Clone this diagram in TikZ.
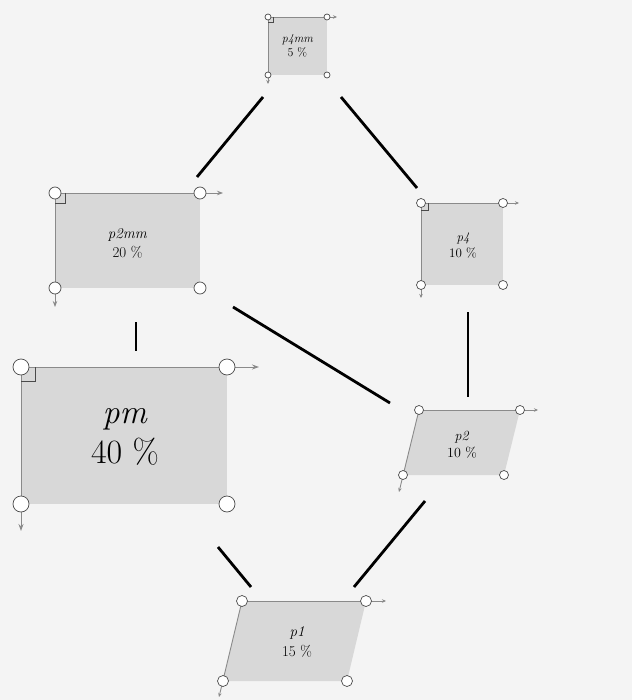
\documentclass[tikz,border=0pt]{standalone}
\usepackage{fontspec}
\usetikzlibrary{arrows.meta}
\definecolor{bggray}{HTML}{F4F4F4}
\definecolor{cellgray}{HTML}{D8D8D8}
\definecolor{edgegray}{HTML}{8A8A8A}
\definecolor{circgray}{HTML}{4A4A4A}
\tikzset{
  celledge/.style={draw=edgegray, line width=0.9pt},
  corner/.style={circle, draw=circgray, fill=white, line width=0.7pt, inner sep=0pt},
  rmark/.style={draw=circgray, line width=0.6pt},
  link/.style={line width=2.8pt, black},
  lbl/.style={align=center, inner sep=0pt, text=black},
  tipS/.style={-{Stealth[length=4pt,width=3.5pt]}},
  tipM/.style={-{Stealth[length=6pt,width=4.5pt]}},
  tipL/.style={-{Stealth[length=7pt,width=5pt]}},
}
\begin{document}
\begin{tikzpicture}[x=1pt,y=-1pt]
\fill[bggray] (0,0) rectangle (632,700);
\useasboundingbox (0,0) rectangle (632,700);

% ---------- p4mm ----------
\coordinate (aTL) at (268,17);
\coordinate (aTR) at (327,17);
\coordinate (aBL) at (268,75);
\coordinate (aBR) at (327,75);
\coordinate (aAR) at (337,17);
\coordinate (aAD) at (268,84);
\fill[cellgray] (aTL) -- (aTR) -- (aBR) -- (aBL) -- cycle;
\draw[celledge, tipS] (aTL) -- (aAR);
\draw[celledge, tipS] (aTL) -- (aAD);
\draw[rmark] (aTL) ++(5,0) -- ++(0,5) -- ++(-5,0);
\foreach \c in {TL,TR,BL,BR} \node[corner, minimum size=6pt] (ac\c) at (a\c) {};
\node[lbl, font=\fontsize{12}{14}\selectfont] (p4mm) at (297.5,46) {\textit{p4mm}\\5 \%};

% ---------- p2mm ----------
\coordinate (bTL) at (55,193);
\coordinate (bTR) at (200,193);
\coordinate (bBL) at (55,288);
\coordinate (bBR) at (200,288);
\coordinate (bAR) at (223,193);
\coordinate (bAD) at (55,307);
\fill[cellgray] (bTL) -- (bTR) -- (bBR) -- (bBL) -- cycle;
\draw[celledge, tipM] (bTL) -- (bAR);
\draw[celledge, tipM] (bTL) -- (bAD);
\draw[rmark] (bTL) ++(10,0) -- ++(0,10) -- ++(-10,0);
\foreach \c in {TL,TR,BL,BR} \node[corner, minimum size=12pt] (bc\c) at (b\c) {};
\node[lbl, font=\fontsize{15}{19}\selectfont] (p2mm) at (127.5,243) {\textit{p2mm}\\20 \%};

% ---------- pm ----------
\coordinate (cTL) at (21,367);
\coordinate (cTR) at (227,367);
\coordinate (cBL) at (21,504);
\coordinate (cBR) at (227,504);
\coordinate (cAR) at (259,367);
\coordinate (cAD) at (21,531);
\fill[cellgray] (cTL) -- (cTR) -- (cBR) -- (cBL) -- cycle;
\draw[celledge, line width=1pt, tipL] (cTL) -- (cAR);
\draw[celledge, line width=1pt, tipL] (cTL) -- (cAD);
\draw[rmark] (cTL) ++(14,0) -- ++(0,14) -- ++(-14,0);
\foreach \c in {TL,TR,BL,BR} \node[corner, minimum size=16pt] (cc\c) at (c\c) {};
\node[lbl, font=\fontsize{34}{40}\selectfont] (pm) at (125,437) {\textit{pm}\\40 \%};

% ---------- p4 ----------
\coordinate (dTL) at (421,203);
\coordinate (dTR) at (503,203);
\coordinate (dBL) at (421,285);
\coordinate (dBR) at (503,285);
\coordinate (dAR) at (519,203);
\coordinate (dAD) at (421,298);
\fill[cellgray] (dTL) -- (dTR) -- (dBR) -- (dBL) -- cycle;
\draw[celledge, tipS] (dTL) -- (dAR);
\draw[celledge, tipS] (dTL) -- (dAD);
\draw[rmark] (dTL) ++(7,0) -- ++(0,7) -- ++(-7,0);
\foreach \c in {TL,TR,BL,BR} \node[corner, minimum size=9pt] (dc\c) at (d\c) {};
\node[lbl, font=\fontsize{13}{16}\selectfont] (p4) at (463,246) {\textit{p4}\\10 \%};

% ---------- p2 ----------
\coordinate (eTL) at (419,410);
\coordinate (eTR) at (520,410);
\coordinate (eBL) at (403,475);
\coordinate (eBR) at (504,475);
\coordinate (eAR) at (538,410);
\coordinate (eAD) at (399,492);
\fill[cellgray] (eTL) -- (eTR) -- (eBR) -- (eBL) -- cycle;
\draw[celledge, tipS] (eTL) -- (eAR);
\draw[celledge, tipS] (eTL) -- (eAD);
\foreach \c in {TL,TR,BL,BR} \node[corner, minimum size=9pt] (ec\c) at (e\c) {};
\node[lbl, font=\fontsize{14}{17}\selectfont] (p2) at (462,445) {\textit{p2}\\10 \%};

% ---------- p1 ----------
\coordinate (fTL) at (242,601);
\coordinate (fTR) at (366,601);
\coordinate (fBL) at (223,681);
\coordinate (fBR) at (347,681);
\coordinate (fAR) at (386,601);
\coordinate (fAD) at (219,697);
\fill[cellgray] (fTL) -- (fTR) -- (fBR) -- (fBL) -- cycle;
\draw[celledge, tipS] (fTL) -- (fAR);
\draw[celledge, tipS] (fTL) -- (fAD);
\foreach \c in {TL,TR,BL,BR} \node[corner, minimum size=11pt] (fc\c) at (f\c) {};
\node[lbl, font=\fontsize{15}{20}\selectfont] (p1) at (297,642) {\textit{p1}\\15 \%};

% ---------- connectors ----------
\coordinate (k1a) at (263,97);  \coordinate (k1b) at (197,177);
\coordinate (k2a) at (341,97);  \coordinate (k2b) at (417,188);
\coordinate (k3a) at (136,322); \coordinate (k3b) at (136,351);
\coordinate (k4a) at (233,307); \coordinate (k4b) at (390,403);
\coordinate (k5a) at (468,312); \coordinate (k5b) at (468,397);
\coordinate (k6a) at (218,547); \coordinate (k6b) at (251,587);
\coordinate (k7a) at (425,501); \coordinate (k7b) at (354,587);
\foreach \k in {1,...,7} \draw[link] (k\k a) -- (k\k b);
\end{tikzpicture}
\end{document}
